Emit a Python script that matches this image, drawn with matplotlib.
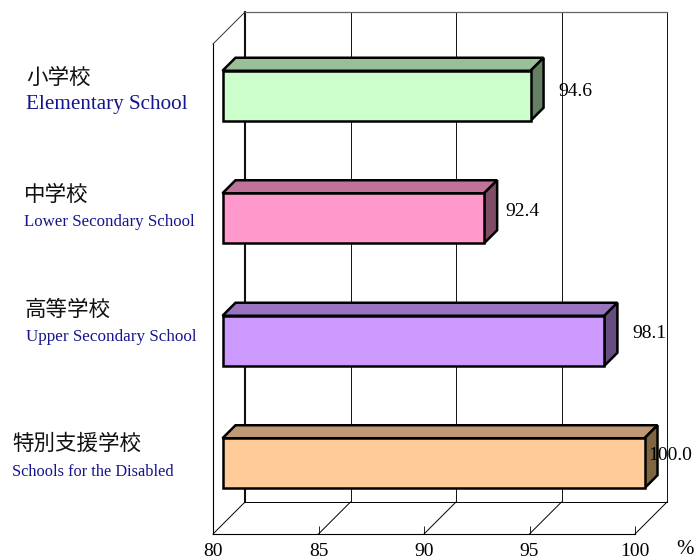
import matplotlib
matplotlib.use('Agg')
import matplotlib.pyplot as plt
from matplotlib.patches import Polygon
from matplotlib.transforms import Affine2D

# Values and labels
values = [94.6, 92.4, 98.1, 100.0]
value_labels = ['94.6', '92.4', '98.1', '100.0']
names_ja = ['小学校', '中学校', '高等学校', '特別支援学校']
names_en = ['Elementary School', 'Lower Secondary School',
            'Upper Secondary School', 'Schools for the Disabled']
ticks = [80, 85, 90, 95, 100]

front_colors = ['#CCFFCC', '#FF99CC', '#CC99FF', '#FFCC99']
top_colors = ['#99BF99', '#BF7399', '#9973BF', '#BF9973']
side_colors = ['#668066', '#804D66', '#664D80', '#806640']

W, H = 697, 559
SERIF = 'Liberation Serif'
CJK = 'Noto Sans CJK JP'

fig = plt.figure(figsize=(W / 100, H / 100), dpi=100)
ax = fig.add_axes([213 / W, (H - 534) / H, 422 / W, 490 / H])
ax.set_xlim(80, 100)
ax.set_ylim(4, 0)
ax.patch.set_visible(False)


def shift(px):
    # oblique offset into the chart, in pixels
    return ax.transData + Affine2D().translate(px, px)


BACK = 32
BAR_FRONT = 9.5
BAR_BACK = 22.5
BAR_H = 50 / 122.5

# walls and floor
ax.spines['top'].set_visible(False)
ax.spines['right'].set_visible(False)
ax.spines['left'].set_linewidth(0.8)
ax.spines['bottom'].set_linewidth(0.8)
ax.set_yticks([])
ax.set_xticks(ticks)
ax.set_xticklabels([str(t) for t in ticks], family=SERIF, fontsize=14)
ax.tick_params(axis='x', direction='in', length=5.5, width=0.6, pad=6.5)

for t in ticks:
    lw = 1.5 if t == 80 else 0.7
    ax.plot([t, t], [4, 0], color='#111111', lw=lw, transform=shift(BACK),
            clip_on=False, zorder=1)
    ax.plot([t, t + BACK * 20 / 422], [4, 4 - BACK * 4 / 490], color='black',
            lw=0.7, clip_on=False, zorder=1)
ax.plot([80, 100], [4, 4], color='black', lw=0.7, transform=shift(BACK),
        clip_on=False, zorder=1)
ax.plot([80, 100], [0, 0], color='#666666', lw=0.9, transform=shift(BACK),
        clip_on=False, zorder=1)
ax.plot([80, 80 + BACK * 20 / 422], [0, -BACK * 4 / 490], color='#333333',
        lw=0.7, clip_on=False, zorder=1)

# bars
for i, v in enumerate(values):
    top = i + 0.5 - BAR_H / 2
    bottom = i + 0.5 + BAR_H / 2
    tf = shift(BAR_FRONT)
    ax.barh(i + 0.5, v - 80, left=80, height=BAR_H, color=front_colors[i],
            edgecolor='black', linewidth=1.8, transform=tf, clip_on=False, zorder=4)
    dx = 13 * 20 / 422
    dy = 13 * 4 / 490
    ax.add_patch(Polygon([(80, top), (80 + dx, top - dy), (v + dx, top - dy), (v, top)],
                         facecolor=top_colors[i], edgecolor='black', linewidth=1.8,
                         transform=tf, clip_on=False, zorder=3))
    ax.add_patch(Polygon([(v, top), (v + dx, top - dy), (v + dx, bottom - dy), (v, bottom)],
                         facecolor=side_colors[i], edgecolor='black', linewidth=1.8,
                         transform=tf, clip_on=False, zorder=3))

# value labels, placed by hand next to the bars
label_x = [558, 505, 632, 648]
label_y = [91, 212, 334, 455]
for i in range(4):
    fig.text(label_x[i] / W, 1 - label_y[i] / H, value_labels[i], family=SERIF,
             fontsize=14, va='center', ha='left', color='black', zorder=6)
fig.text(685 / W, 1 - 550 / H, '%', family=SERIF, fontsize=15, ha='center', va='center')

# category names
ja_x = [26, 24, 25, 12]
ja_y = [78, 195, 310, 444]
en_x = [26, 24, 26, 12]
en_y = [105, 222, 337, 472]
en_size = [15.2, 12.2, 12.3, 11.8]
for i in range(4):
    fig.text(ja_x[i] / W, 1 - ja_y[i] / H, names_ja[i], family=[CJK, 'DejaVu Sans'],
             fontsize=15.5, color='#111111', ha='left', va='center')
    fig.text(en_x[i] / W, 1 - en_y[i] / H, names_en[i], family=SERIF,
             fontsize=en_size[i], color='#14148C', ha='left', va='center')

fig.savefig('out.png', dpi=100)
